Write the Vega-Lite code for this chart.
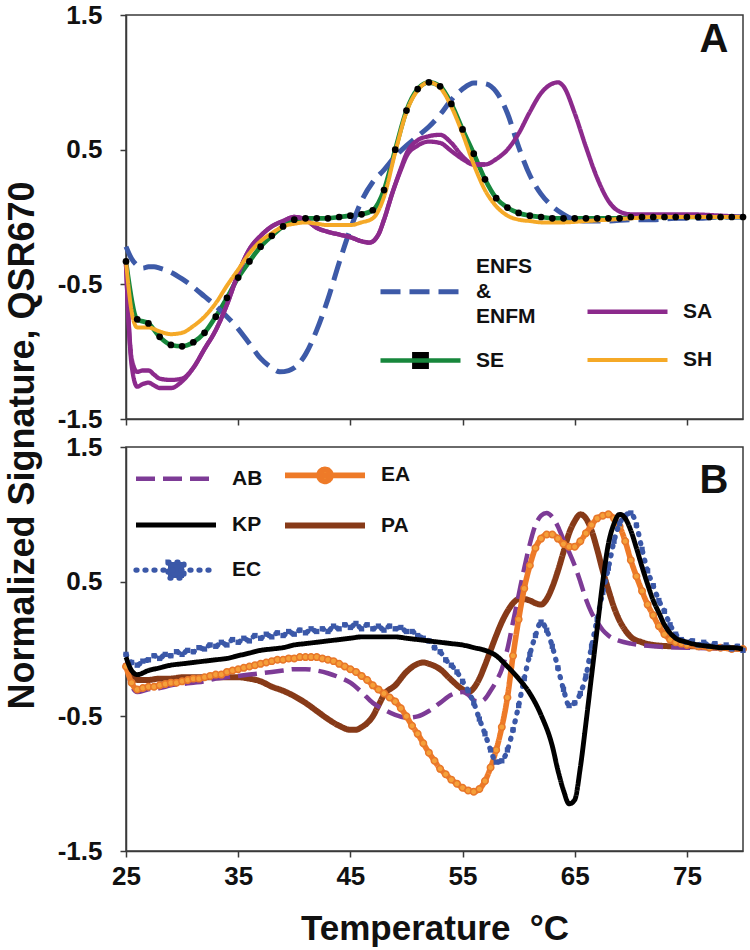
{
  "$schema": "https://vega.github.io/schema/vega-lite/v6.json",
  "background": "white",
  "padding": {"left": 3, "top": 1, "right": 5, "bottom": 5},
  "config": {
    "font": "Liberation Sans",
    "view": {"stroke": "#3a3a3a", "strokeWidth": 1.5},
    "axis": {
      "grid": false, "domainColor": "#3a3a3a", "domainWidth": 1.5, "tickColor": "#3a3a3a", "tickWidth": 1.5, "tickSize": 6,
      "labelFont": "Liberation Sans", "labelFontSize": 26, "labelFontWeight": "bold", "labelColor": "#111", "labelFlush": false, "labelOverlap": false,
      "titleFont": "Liberation Sans", "titleFontSize": 36, "titleFontWeight": "bold", "titleColor": "#111"
    },
    "legend": {"labelFont": "Liberation Sans", "labelFontSize": 21, "labelFontWeight": "bold", "labelColor": "#111", "symbolSize": 2500, "symbolStrokeWidth": 4, "symbolType": "stroke", "labelOffset": 28, "labelLimit": 0}
  },
  "datasets": {
    "a": [
      {"s":"ENFS","t":25,"v":-0.22},{"s":"ENFS","t":25.5,"v":-0.31},{"s":"ENFS","t":26,"v":-0.36},{"s":"ENFS","t":26.5,"v":-0.38},{"s":"ENFS","t":27,"v":-0.37},{"s":"ENFS","t":27.5,"v":-0.37},{"s":"ENFS","t":28,"v":-0.38},{"s":"ENFS","t":29,"v":-0.41},{"s":"ENFS","t":30,"v":-0.46},{"s":"ENFS","t":31,"v":-0.52},{"s":"ENFS","t":32,"v":-0.59},{"s":"ENFS","t":33,"v":-0.66},{"s":"ENFS","t":34,"v":-0.74},{"s":"ENFS","t":35,"v":-0.83},{"s":"ENFS","t":36,"v":-0.94},{"s":"ENFS","t":37,"v":-1.05},{"s":"ENFS","t":38,"v":-1.12},{"s":"ENFS","t":38.7,"v":-1.15},{"s":"ENFS","t":39.5,"v":-1.14},{"s":"ENFS","t":40,"v":-1.12},{"s":"ENFS","t":41,"v":-1.02},{"s":"ENFS","t":42,"v":-0.84},{"s":"ENFS","t":43,"v":-0.61},{"s":"ENFS","t":44,"v":-0.34},{"s":"ENFS","t":45,"v":-0.09},{"s":"ENFS","t":46,"v":0.12},{"s":"ENFS","t":47,"v":0.26},{"s":"ENFS","t":48,"v":0.35},{"s":"ENFS","t":49,"v":0.45},{"s":"ENFS","t":50,"v":0.53},{"s":"ENFS","t":51,"v":0.6},{"s":"ENFS","t":52,"v":0.67},{"s":"ENFS","t":53,"v":0.76},{"s":"ENFS","t":54,"v":0.87},{"s":"ENFS","t":55,"v":0.95},{"s":"ENFS","t":56,"v":0.995},{"s":"ENFS","t":57,"v":0.99},{"s":"ENFS","t":58,"v":0.93},{"s":"ENFS","t":59,"v":0.77},{"s":"ENFS","t":60,"v":0.52},{"s":"ENFS","t":61,"v":0.31},{"s":"ENFS","t":62,"v":0.17},{"s":"ENFS","t":63,"v":0.08},{"s":"ENFS","t":64,"v":0.02},{"s":"ENFS","t":65,"v":-0.02},{"s":"ENFS","t":66,"v":-0.03},{"s":"ENFS","t":68,"v":-0.03},{"s":"ENFS","t":70,"v":-0.02},{"s":"ENFS","t":72,"v":-0.02},{"s":"ENFS","t":74,"v":-0.01},{"s":"ENFS","t":76,"v":-0.01},{"s":"ENFS","t":78,"v":0.0},{"s":"ENFS","t":80,"v":0.0},
      {"s":"SA","t":25,"v":-0.35},{"s":"SA","t":25.5,"v":-1.1},{"s":"SA","t":26,"v":-1.26},{"s":"SA","t":26.5,"v":-1.24},{"s":"SA","t":27,"v":-1.23},{"s":"SA","t":27.5,"v":-1.25},{"s":"SA","t":28,"v":-1.27},{"s":"SA","t":29,"v":-1.27},{"s":"SA","t":30,"v":-1.22},{"s":"SA","t":31,"v":-1.12},{"s":"SA","t":32,"v":-0.98},{"s":"SA","t":33,"v":-0.84},{"s":"SA","t":34,"v":-0.65},{"s":"SA","t":35,"v":-0.42},{"s":"SA","t":36,"v":-0.24},{"s":"SA","t":37,"v":-0.14},{"s":"SA","t":38,"v":-0.07},{"s":"SA","t":39,"v":-0.03},{"s":"SA","t":40,"v":0.0},{"s":"SA","t":41,"v":-0.02},{"s":"SA","t":42,"v":-0.08},{"s":"SA","t":43,"v":-0.11},{"s":"SA","t":44,"v":-0.13},{"s":"SA","t":45,"v":-0.15},{"s":"SA","t":46,"v":-0.18},{"s":"SA","t":46.7,"v":-0.19},{"s":"SA","t":47.5,"v":-0.13},{"s":"SA","t":48,"v":-0.02},{"s":"SA","t":48.75,"v":0.18},{"s":"SA","t":49.5,"v":0.35},{"s":"SA","t":50,"v":0.45},{"s":"SA","t":51,"v":0.53},{"s":"SA","t":52,"v":0.56},{"s":"SA","t":53,"v":0.55},{"s":"SA","t":54,"v":0.49},{"s":"SA","t":55,"v":0.43},{"s":"SA","t":56,"v":0.39},{"s":"SA","t":57,"v":0.39},{"s":"SA","t":58,"v":0.43},{"s":"SA","t":59,"v":0.5},{"s":"SA","t":60,"v":0.62},{"s":"SA","t":61,"v":0.78},{"s":"SA","t":62,"v":0.92},{"s":"SA","t":63,"v":0.99},{"s":"SA","t":63.5,"v":1.0},{"s":"SA","t":64,"v":0.97},{"s":"SA","t":65,"v":0.77},{"s":"SA","t":66,"v":0.52},{"s":"SA","t":67,"v":0.29},{"s":"SA","t":68,"v":0.12},{"s":"SA","t":69,"v":0.04},{"s":"SA","t":70,"v":0.02},{"s":"SA","t":72,"v":0.02},{"s":"SA","t":75,"v":0.02},{"s":"SA","t":78,"v":0.01},{"s":"SA","t":80,"v":0.0},
      {"s":"SA","r":2,"t":25,"v":-0.35},{"s":"SA","r":2,"t":25.5,"v":-1.05},{"s":"SA","r":2,"t":26,"v":-1.15},{"s":"SA","r":2,"t":26.5,"v":-1.14},{"s":"SA","r":2,"t":27,"v":-1.14},{"s":"SA","r":2,"t":27.5,"v":-1.17},{"s":"SA","r":2,"t":28,"v":-1.2},{"s":"SA","r":2,"t":29,"v":-1.21},{"s":"SA","r":2,"t":30,"v":-1.2},{"s":"SA","r":2,"t":31,"v":-1.12},{"s":"SA","r":2,"t":32,"v":-0.98},{"s":"SA","r":2,"t":33,"v":-0.84},{"s":"SA","r":2,"t":34,"v":-0.65},{"s":"SA","r":2,"t":35,"v":-0.42},{"s":"SA","r":2,"t":36,"v":-0.24},{"s":"SA","r":2,"t":37,"v":-0.14},{"s":"SA","r":2,"t":38,"v":-0.07},{"s":"SA","r":2,"t":39,"v":-0.03},{"s":"SA","r":2,"t":40,"v":0.0},{"s":"SA","r":2,"t":41,"v":-0.02},{"s":"SA","r":2,"t":42,"v":-0.08},{"s":"SA","r":2,"t":43,"v":-0.11},{"s":"SA","r":2,"t":44,"v":-0.13},{"s":"SA","r":2,"t":45,"v":-0.15},{"s":"SA","r":2,"t":46,"v":-0.18},{"s":"SA","r":2,"t":46.7,"v":-0.19},{"s":"SA","r":2,"t":47.5,"v":-0.13},{"s":"SA","r":2,"t":48,"v":-0.02},{"s":"SA","r":2,"t":48.75,"v":0.18},{"s":"SA","r":2,"t":49.5,"v":0.36},{"s":"SA","r":2,"t":50,"v":0.47},{"s":"SA","r":2,"t":51,"v":0.57},{"s":"SA","r":2,"t":52,"v":0.6},{"s":"SA","r":2,"t":53,"v":0.61},{"s":"SA","r":2,"t":54,"v":0.55},{"s":"SA","r":2,"t":55,"v":0.45},{"s":"SA","r":2,"t":56,"v":0.39},{"s":"SA","r":2,"t":57,"v":0.39},
      {"s":"SE","t":25,"v":-0.33},{"s":"SE","t":26,"v":-0.76},{"s":"SE","t":27,"v":-0.79},{"s":"SE","t":28,"v":-0.89},{"s":"SE","t":29,"v":-0.95},{"s":"SE","t":30,"v":-0.96},{"s":"SE","t":31,"v":-0.93},{"s":"SE","t":32,"v":-0.86},{"s":"SE","t":33,"v":-0.74},{"s":"SE","t":34,"v":-0.6},{"s":"SE","t":35,"v":-0.45},{"s":"SE","t":36,"v":-0.33},{"s":"SE","t":37,"v":-0.22},{"s":"SE","t":38,"v":-0.14},{"s":"SE","t":39,"v":-0.07},{"s":"SE","t":40,"v":-0.02},{"s":"SE","t":41,"v":-0.01},{"s":"SE","t":42,"v":-0.01},{"s":"SE","t":43,"v":-0.01},{"s":"SE","t":44,"v":0.0},{"s":"SE","t":45,"v":0.01},{"s":"SE","t":46,"v":0.02},{"s":"SE","t":47,"v":0.05},{"s":"SE","t":48,"v":0.2},{"s":"SE","t":49,"v":0.5},{"s":"SE","t":50,"v":0.79},{"s":"SE","t":51,"v":0.95},{"s":"SE","t":52,"v":1.0},{"s":"SE","t":53,"v":0.97},{"s":"SE","t":54,"v":0.84},{"s":"SE","t":55,"v":0.65},{"s":"SE","t":56,"v":0.47},{"s":"SE","t":57,"v":0.28},{"s":"SE","t":58,"v":0.14},{"s":"SE","t":59,"v":0.07},{"s":"SE","t":60,"v":0.03},{"s":"SE","t":61,"v":0.01},{"s":"SE","t":62,"v":0.0},{"s":"SE","t":63,"v":-0.01},{"s":"SE","t":64,"v":-0.01},{"s":"SE","t":65,"v":-0.01},{"s":"SE","t":66,"v":-0.01},{"s":"SE","t":67,"v":-0.01},{"s":"SE","t":68,"v":-0.01},{"s":"SE","t":69,"v":-0.01},{"s":"SE","t":70,"v":0.0},{"s":"SE","t":71,"v":0.0},{"s":"SE","t":72,"v":0.0},{"s":"SE","t":73,"v":0.0},{"s":"SE","t":74,"v":0.0},{"s":"SE","t":75,"v":0.0},{"s":"SE","t":76,"v":0.0},{"s":"SE","t":77,"v":0.0},{"s":"SE","t":78,"v":0.0},{"s":"SE","t":79,"v":0.0},{"s":"SE","t":80,"v":0.0},
      {"s":"SH","t":25,"v":-0.33},{"s":"SH","t":25.5,"v":-0.7},{"s":"SH","t":26,"v":-0.82},{"s":"SH","t":27,"v":-0.82},{"s":"SH","t":28,"v":-0.85},{"s":"SH","t":29,"v":-0.87},{"s":"SH","t":30,"v":-0.86},{"s":"SH","t":31,"v":-0.81},{"s":"SH","t":32,"v":-0.74},{"s":"SH","t":33,"v":-0.64},{"s":"SH","t":34,"v":-0.51},{"s":"SH","t":35,"v":-0.39},{"s":"SH","t":36,"v":-0.27},{"s":"SH","t":37,"v":-0.18},{"s":"SH","t":38,"v":-0.12},{"s":"SH","t":39,"v":-0.07},{"s":"SH","t":40,"v":-0.05},{"s":"SH","t":41,"v":-0.04},{"s":"SH","t":42,"v":-0.05},{"s":"SH","t":43,"v":-0.06},{"s":"SH","t":44,"v":-0.06},{"s":"SH","t":45,"v":-0.06},{"s":"SH","t":46,"v":-0.04},{"s":"SH","t":47,"v":-0.01},{"s":"SH","t":48,"v":0.15},{"s":"SH","t":49,"v":0.48},{"s":"SH","t":50,"v":0.78},{"s":"SH","t":51,"v":0.94},{"s":"SH","t":52,"v":1.0},{"s":"SH","t":53,"v":0.96},{"s":"SH","t":54,"v":0.82},{"s":"SH","t":55,"v":0.62},{"s":"SH","t":56,"v":0.39},{"s":"SH","t":57,"v":0.2},{"s":"SH","t":58,"v":0.08},{"s":"SH","t":59,"v":0.01},{"s":"SH","t":60,"v":-0.02},{"s":"SH","t":61,"v":-0.03},{"s":"SH","t":62,"v":-0.04},{"s":"SH","t":64,"v":-0.04},{"s":"SH","t":66,"v":-0.03},{"s":"SH","t":68,"v":-0.02},{"s":"SH","t":70,"v":-0.01},{"s":"SH","t":72,"v":0.0},{"s":"SH","t":75,"v":0.0},{"s":"SH","t":80,"v":0.0}
    ],
    "b": [
      {"s":"PA","t":25,"v":-0.1},{"s":"PA","t":25.5,"v":-0.2},{"s":"PA","t":26,"v":-0.23},{"s":"PA","t":27,"v":-0.23},{"s":"PA","t":28,"v":-0.22},{"s":"PA","t":29,"v":-0.22},{"s":"PA","t":30,"v":-0.21},{"s":"PA","t":31,"v":-0.21},{"s":"PA","t":32,"v":-0.21},{"s":"PA","t":33,"v":-0.21},{"s":"PA","t":34,"v":-0.21},{"s":"PA","t":35,"v":-0.21},{"s":"PA","t":36,"v":-0.22},{"s":"PA","t":37,"v":-0.24},{"s":"PA","t":38,"v":-0.28},{"s":"PA","t":39,"v":-0.31},{"s":"PA","t":40,"v":-0.35},{"s":"PA","t":41,"v":-0.4},{"s":"PA","t":42,"v":-0.46},{"s":"PA","t":43,"v":-0.52},{"s":"PA","t":44,"v":-0.57},{"s":"PA","t":45,"v":-0.6},{"s":"PA","t":45.5,"v":-0.6},{"s":"PA","t":46,"v":-0.58},{"s":"PA","t":46.5,"v":-0.55},{"s":"PA","t":47,"v":-0.5},{"s":"PA","t":47.5,"v":-0.42},{"s":"PA","t":48,"v":-0.34},{"s":"PA","t":49,"v":-0.27},{"s":"PA","t":50,"v":-0.17},{"s":"PA","t":51,"v":-0.11},{"s":"PA","t":51.5,"v":-0.1},{"s":"PA","t":52,"v":-0.11},{"s":"PA","t":53,"v":-0.15},{"s":"PA","t":54,"v":-0.23},{"s":"PA","t":55,"v":-0.3},{"s":"PA","t":55.5,"v":-0.32},{"s":"PA","t":56,"v":-0.29},{"s":"PA","t":56.5,"v":-0.22},{"s":"PA","t":57,"v":-0.12},{"s":"PA","t":57.5,"v":-0.01},{"s":"PA","t":58,"v":0.1},{"s":"PA","t":58.5,"v":0.2},{"s":"PA","t":59,"v":0.28},{"s":"PA","t":59.5,"v":0.34},{"s":"PA","t":60,"v":0.37},{"s":"PA","t":60.5,"v":0.37},{"s":"PA","t":61,"v":0.36},{"s":"PA","t":61.5,"v":0.34},{"s":"PA","t":62,"v":0.33},{"s":"PA","t":62.5,"v":0.37},{"s":"PA","t":63,"v":0.46},{"s":"PA","t":63.5,"v":0.58},{"s":"PA","t":64,"v":0.72},{"s":"PA","t":64.5,"v":0.86},{"s":"PA","t":65,"v":0.95},{"s":"PA","t":65.5,"v":1.0},{"s":"PA","t":66,"v":0.97},{"s":"PA","t":66.5,"v":0.88},{"s":"PA","t":67,"v":0.74},{"s":"PA","t":67.5,"v":0.58},{"s":"PA","t":68,"v":0.44},{"s":"PA","t":68.5,"v":0.31},{"s":"PA","t":69,"v":0.21},{"s":"PA","t":69.5,"v":0.14},{"s":"PA","t":70,"v":0.09},{"s":"PA","t":71,"v":0.05},{"s":"PA","t":72,"v":0.03},{"s":"PA","t":74,"v":0.02},{"s":"PA","t":76,"v":0.02},{"s":"PA","t":78,"v":0.01},{"s":"PA","t":80,"v":0.0},
      {"s":"AB","t":25,"v":-0.1},{"s":"AB","t":25.5,"v":-0.27},{"s":"AB","t":26,"v":-0.32},{"s":"AB","t":27,"v":-0.3},{"s":"AB","t":28,"v":-0.29},{"s":"AB","t":29,"v":-0.27},{"s":"AB","t":30,"v":-0.26},{"s":"AB","t":31,"v":-0.25},{"s":"AB","t":32,"v":-0.24},{"s":"AB","t":33,"v":-0.22},{"s":"AB","t":34,"v":-0.21},{"s":"AB","t":35,"v":-0.2},{"s":"AB","t":36,"v":-0.19},{"s":"AB","t":37,"v":-0.18},{"s":"AB","t":38,"v":-0.17},{"s":"AB","t":39,"v":-0.16},{"s":"AB","t":40,"v":-0.15},{"s":"AB","t":41,"v":-0.15},{"s":"AB","t":42,"v":-0.16},{"s":"AB","t":43,"v":-0.18},{"s":"AB","t":44,"v":-0.21},{"s":"AB","t":45,"v":-0.25},{"s":"AB","t":46,"v":-0.32},{"s":"AB","t":47,"v":-0.4},{"s":"AB","t":48,"v":-0.45},{"s":"AB","t":49,"v":-0.49},{"s":"AB","t":50,"v":-0.51},{"s":"AB","t":51,"v":-0.5},{"s":"AB","t":52,"v":-0.46},{"s":"AB","t":53,"v":-0.4},{"s":"AB","t":54,"v":-0.34},{"s":"AB","t":55,"v":-0.32},{"s":"AB","t":55.5,"v":-0.34},{"s":"AB","t":56,"v":-0.38},{"s":"AB","t":56.5,"v":-0.39},{"s":"AB","t":57,"v":-0.37},{"s":"AB","t":57.5,"v":-0.31},{"s":"AB","t":58,"v":-0.24},{"s":"AB","t":58.5,"v":-0.15},{"s":"AB","t":59,"v":0.0},{"s":"AB","t":59.5,"v":0.2},{"s":"AB","t":60,"v":0.4},{"s":"AB","t":60.5,"v":0.6},{"s":"AB","t":61,"v":0.78},{"s":"AB","t":61.5,"v":0.92},{"s":"AB","t":62,"v":0.99},{"s":"AB","t":62.5,"v":1.01},{"s":"AB","t":63,"v":0.98},{"s":"AB","t":63.5,"v":0.91},{"s":"AB","t":64,"v":0.81},{"s":"AB","t":64.5,"v":0.72},{"s":"AB","t":65,"v":0.62},{"s":"AB","t":65.5,"v":0.5},{"s":"AB","t":66,"v":0.37},{"s":"AB","t":66.5,"v":0.27},{"s":"AB","t":67,"v":0.2},{"s":"AB","t":67.5,"v":0.14},{"s":"AB","t":68,"v":0.1},{"s":"AB","t":69,"v":0.06},{"s":"AB","t":70,"v":0.04},{"s":"AB","t":72,"v":0.02},{"s":"AB","t":75,"v":0.01},{"s":"AB","t":80,"v":0.0},
      {"s":"EA","t":25,"v":-0.13},{"s":"EA","t":25.5,"v":-0.25},{"s":"EA","t":26,"v":-0.3},{"s":"EA","t":26.5,"v":-0.29},{"s":"EA","t":27,"v":-0.28},{"s":"EA","t":27.5,"v":-0.28},{"s":"EA","t":28,"v":-0.27},{"s":"EA","t":28.5,"v":-0.26},{"s":"EA","t":29,"v":-0.25},{"s":"EA","t":29.5,"v":-0.25},{"s":"EA","t":30,"v":-0.24},{"s":"EA","t":30.5,"v":-0.23},{"s":"EA","t":31,"v":-0.22},{"s":"EA","t":31.5,"v":-0.22},{"s":"EA","t":32,"v":-0.21},{"s":"EA","t":32.5,"v":-0.2},{"s":"EA","t":33,"v":-0.19},{"s":"EA","t":33.5,"v":-0.19},{"s":"EA","t":34,"v":-0.17},{"s":"EA","t":34.5,"v":-0.16},{"s":"EA","t":35,"v":-0.15},{"s":"EA","t":35.5,"v":-0.14},{"s":"EA","t":36,"v":-0.13},{"s":"EA","t":36.5,"v":-0.12},{"s":"EA","t":37,"v":-0.11},{"s":"EA","t":37.5,"v":-0.1},{"s":"EA","t":38,"v":-0.09},{"s":"EA","t":38.5,"v":-0.08},{"s":"EA","t":39,"v":-0.08},{"s":"EA","t":39.5,"v":-0.07},{"s":"EA","t":40,"v":-0.07},{"s":"EA","t":40.5,"v":-0.06},{"s":"EA","t":41,"v":-0.06},{"s":"EA","t":41.5,"v":-0.06},{"s":"EA","t":42,"v":-0.06},{"s":"EA","t":42.5,"v":-0.07},{"s":"EA","t":43,"v":-0.08},{"s":"EA","t":43.5,"v":-0.09},{"s":"EA","t":44,"v":-0.11},{"s":"EA","t":44.5,"v":-0.13},{"s":"EA","t":45,"v":-0.15},{"s":"EA","t":45.5,"v":-0.17},{"s":"EA","t":46,"v":-0.2},{"s":"EA","t":46.5,"v":-0.23},{"s":"EA","t":47,"v":-0.27},{"s":"EA","t":47.5,"v":-0.3},{"s":"EA","t":48,"v":-0.33},{"s":"EA","t":48.5,"v":-0.36},{"s":"EA","t":49,"v":-0.39},{"s":"EA","t":49.5,"v":-0.44},{"s":"EA","t":50,"v":-0.5},{"s":"EA","t":50.5,"v":-0.57},{"s":"EA","t":51,"v":-0.63},{"s":"EA","t":51.5,"v":-0.7},{"s":"EA","t":52,"v":-0.77},{"s":"EA","t":52.5,"v":-0.83},{"s":"EA","t":53,"v":-0.89},{"s":"EA","t":53.5,"v":-0.93},{"s":"EA","t":54,"v":-0.97},{"s":"EA","t":54.5,"v":-1.0},{"s":"EA","t":55,"v":-1.03},{"s":"EA","t":55.5,"v":-1.05},{"s":"EA","t":56,"v":-1.06},{"s":"EA","t":56.5,"v":-1.04},{"s":"EA","t":57,"v":-0.98},{"s":"EA","t":57.5,"v":-0.88},{"s":"EA","t":58,"v":-0.75},{"s":"EA","t":58.5,"v":-0.58},{"s":"EA","t":59,"v":-0.36},{"s":"EA","t":59.5,"v":-0.05},{"s":"EA","t":60,"v":0.22},{"s":"EA","t":60.5,"v":0.45},{"s":"EA","t":61,"v":0.62},{"s":"EA","t":61.5,"v":0.75},{"s":"EA","t":62,"v":0.82},{"s":"EA","t":62.5,"v":0.85},{"s":"EA","t":63,"v":0.85},{"s":"EA","t":63.5,"v":0.82},{"s":"EA","t":64,"v":0.78},{"s":"EA","t":64.5,"v":0.76},{"s":"EA","t":65,"v":0.76},{"s":"EA","t":65.5,"v":0.8},{"s":"EA","t":66,"v":0.86},{"s":"EA","t":66.5,"v":0.92},{"s":"EA","t":67,"v":0.97},{"s":"EA","t":67.5,"v":0.99},{"s":"EA","t":68,"v":1.0},{"s":"EA","t":68.5,"v":0.97},{"s":"EA","t":69,"v":0.91},{"s":"EA","t":69.5,"v":0.8},{"s":"EA","t":70,"v":0.66},{"s":"EA","t":70.5,"v":0.54},{"s":"EA","t":71,"v":0.43},{"s":"EA","t":71.5,"v":0.33},{"s":"EA","t":72,"v":0.25},{"s":"EA","t":72.5,"v":0.17},{"s":"EA","t":73,"v":0.11},{"s":"EA","t":73.5,"v":0.07},{"s":"EA","t":74,"v":0.05},{"s":"EA","t":74.5,"v":0.04},{"s":"EA","t":75,"v":0.03},{"s":"EA","t":76,"v":0.02},{"s":"EA","t":77,"v":0.01},{"s":"EA","t":78,"v":0.01},{"s":"EA","t":79,"v":0.0},{"s":"EA","t":80,"v":0.0},
      {"s":"EC","t":25,"v":-0.04},{"s":"EC","t":25.5,"v":-0.1},{"s":"EC","t":26,"v":-0.12},{"s":"EC","t":26.5,"v":-0.09},{"s":"EC","t":27,"v":-0.08},{"s":"EC","t":27.5,"v":-0.05},{"s":"EC","t":28,"v":-0.07},{"s":"EC","t":28.5,"v":-0.04},{"s":"EC","t":29,"v":-0.05},{"s":"EC","t":29.5,"v":-0.02},{"s":"EC","t":30,"v":-0.04},{"s":"EC","t":30.5,"v":-0.01},{"s":"EC","t":31,"v":-0.02},{"s":"EC","t":31.5,"v":0.01},{"s":"EC","t":32,"v":0.0},{"s":"EC","t":32.5,"v":0.03},{"s":"EC","t":33,"v":0.02},{"s":"EC","t":33.5,"v":0.05},{"s":"EC","t":34,"v":0.03},{"s":"EC","t":34.5,"v":0.07},{"s":"EC","t":35,"v":0.05},{"s":"EC","t":35.5,"v":0.08},{"s":"EC","t":36,"v":0.06},{"s":"EC","t":36.5,"v":0.1},{"s":"EC","t":37,"v":0.08},{"s":"EC","t":37.5,"v":0.11},{"s":"EC","t":38,"v":0.09},{"s":"EC","t":38.5,"v":0.12},{"s":"EC","t":39,"v":0.1},{"s":"EC","t":39.5,"v":0.13},{"s":"EC","t":40,"v":0.11},{"s":"EC","t":40.5,"v":0.14},{"s":"EC","t":41,"v":0.12},{"s":"EC","t":41.5,"v":0.15},{"s":"EC","t":42,"v":0.13},{"s":"EC","t":42.5,"v":0.15},{"s":"EC","t":43,"v":0.13},{"s":"EC","t":43.5,"v":0.17},{"s":"EC","t":44,"v":0.15},{"s":"EC","t":44.5,"v":0.18},{"s":"EC","t":45,"v":0.16},{"s":"EC","t":45.5,"v":0.19},{"s":"EC","t":46,"v":0.15},{"s":"EC","t":46.5,"v":0.18},{"s":"EC","t":47,"v":0.15},{"s":"EC","t":47.5,"v":0.17},{"s":"EC","t":48,"v":0.14},{"s":"EC","t":48.5,"v":0.17},{"s":"EC","t":49,"v":0.15},{"s":"EC","t":49.5,"v":0.16},{"s":"EC","t":50,"v":0.13},{"s":"EC","t":50.5,"v":0.13},{"s":"EC","t":51,"v":0.1},{"s":"EC","t":51.5,"v":0.08},{"s":"EC","t":52,"v":0.06},{"s":"EC","t":52.5,"v":0.01},{"s":"EC","t":53,"v":-0.02},{"s":"EC","t":53.5,"v":-0.08},{"s":"EC","t":54,"v":-0.12},{"s":"EC","t":54.5,"v":-0.17},{"s":"EC","t":55,"v":-0.24},{"s":"EC","t":55.5,"v":-0.31},{"s":"EC","t":56,"v":-0.4},{"s":"EC","t":56.5,"v":-0.52},{"s":"EC","t":57,"v":-0.63},{"s":"EC","t":57.5,"v":-0.75},{"s":"EC","t":58,"v":-0.84},{"s":"EC","t":58.5,"v":-0.83},{"s":"EC","t":59,"v":-0.75},{"s":"EC","t":59.5,"v":-0.6},{"s":"EC","t":60,"v":-0.42},{"s":"EC","t":60.5,"v":-0.22},{"s":"EC","t":61,"v":-0.04},{"s":"EC","t":61.5,"v":0.1},{"s":"EC","t":62,"v":0.2},{"s":"EC","t":62.5,"v":0.14},{"s":"EC","t":63,"v":0.02},{"s":"EC","t":63.5,"v":-0.14},{"s":"EC","t":64,"v":-0.3},{"s":"EC","t":64.5,"v":-0.42},{"s":"EC","t":65,"v":-0.4},{"s":"EC","t":65.5,"v":-0.33},{"s":"EC","t":66,"v":-0.2},{"s":"EC","t":66.5,"v":0.02},{"s":"EC","t":67,"v":0.22},{"s":"EC","t":67.5,"v":0.42},{"s":"EC","t":68,"v":0.6},{"s":"EC","t":68.5,"v":0.8},{"s":"EC","t":69,"v":0.93},{"s":"EC","t":69.5,"v":0.99},{"s":"EC","t":70,"v":1.01},{"s":"EC","t":70.5,"v":0.92},{"s":"EC","t":71,"v":0.74},{"s":"EC","t":71.5,"v":0.58},{"s":"EC","t":72,"v":0.47},{"s":"EC","t":72.5,"v":0.36},{"s":"EC","t":73,"v":0.28},{"s":"EC","t":73.5,"v":0.18},{"s":"EC","t":74,"v":0.11},{"s":"EC","t":74.5,"v":0.07},{"s":"EC","t":75,"v":0.05},{"s":"EC","t":75.5,"v":0.06},{"s":"EC","t":76,"v":0.03},{"s":"EC","t":76.5,"v":0.05},{"s":"EC","t":77,"v":0.02},{"s":"EC","t":77.5,"v":0.04},{"s":"EC","t":78,"v":0.01},{"s":"EC","t":78.5,"v":0.03},{"s":"EC","t":79,"v":0.0},{"s":"EC","t":79.5,"v":0.02},{"s":"EC","t":80,"v":-0.01},
      {"s":"KP","t":25,"v":-0.06},{"s":"KP","t":25.5,"v":-0.16},{"s":"KP","t":26,"v":-0.19},{"s":"KP","t":27,"v":-0.16},{"s":"KP","t":28,"v":-0.14},{"s":"KP","t":29,"v":-0.12},{"s":"KP","t":30,"v":-0.11},{"s":"KP","t":31,"v":-0.1},{"s":"KP","t":32,"v":-0.09},{"s":"KP","t":33,"v":-0.08},{"s":"KP","t":34,"v":-0.07},{"s":"KP","t":35,"v":-0.05},{"s":"KP","t":36,"v":-0.03},{"s":"KP","t":37,"v":-0.01},{"s":"KP","t":38,"v":0.0},{"s":"KP","t":39,"v":0.01},{"s":"KP","t":40,"v":0.03},{"s":"KP","t":41,"v":0.04},{"s":"KP","t":42,"v":0.05},{"s":"KP","t":43,"v":0.06},{"s":"KP","t":44,"v":0.07},{"s":"KP","t":45,"v":0.08},{"s":"KP","t":46,"v":0.09},{"s":"KP","t":47,"v":0.09},{"s":"KP","t":48,"v":0.09},{"s":"KP","t":49,"v":0.09},{"s":"KP","t":50,"v":0.08},{"s":"KP","t":51,"v":0.07},{"s":"KP","t":52,"v":0.06},{"s":"KP","t":53,"v":0.05},{"s":"KP","t":54,"v":0.04},{"s":"KP","t":55,"v":0.03},{"s":"KP","t":56,"v":0.01},{"s":"KP","t":57,"v":-0.01},{"s":"KP","t":58,"v":-0.05},{"s":"KP","t":59,"v":-0.13},{"s":"KP","t":60,"v":-0.22},{"s":"KP","t":61,"v":-0.33},{"s":"KP","t":62,"v":-0.49},{"s":"KP","t":63,"v":-0.72},{"s":"KP","t":63.5,"v":-0.9},{"s":"KP","t":64,"v":-1.05},{"s":"KP","t":64.5,"v":-1.15},{"s":"KP","t":65,"v":-1.12},{"s":"KP","t":65.5,"v":-0.88},{"s":"KP","t":66,"v":-0.55},{"s":"KP","t":66.5,"v":-0.2},{"s":"KP","t":67,"v":0.15},{"s":"KP","t":67.5,"v":0.5},{"s":"KP","t":68,"v":0.78},{"s":"KP","t":68.5,"v":0.93},{"s":"KP","t":69,"v":1.0},{"s":"KP","t":69.5,"v":0.97},{"s":"KP","t":70,"v":0.88},{"s":"KP","t":70.5,"v":0.75},{"s":"KP","t":71,"v":0.61},{"s":"KP","t":71.5,"v":0.48},{"s":"KP","t":72,"v":0.36},{"s":"KP","t":72.5,"v":0.27},{"s":"KP","t":73,"v":0.18},{"s":"KP","t":73.5,"v":0.12},{"s":"KP","t":74,"v":0.08},{"s":"KP","t":75,"v":0.05},{"s":"KP","t":76,"v":0.03},{"s":"KP","t":77,"v":0.02},{"s":"KP","t":78,"v":0.01},{"s":"KP","t":79,"v":0.01},{"s":"KP","t":80,"v":0.0}
    ]
  },
  "spacing": 28,
  "bounds": "flush",
  "resolve": {"scale": {"color": "independent", "strokeDash": "independent", "strokeWidth": "independent", "x": "independent", "y": "independent"}, "legend": {"color": "independent", "strokeDash": "independent"}},
  "vconcat": [
    {
      "width": 617,
      "height": 404,
      "data": {"name": "a"},
      "encoding": {
        "x": {"field": "t", "type": "quantitative", "scale": {"domain": [25, 80], "nice": false, "zero": false}, "axis": {"values": [25, 35, 45, 55, 65, 75], "labels": false, "title": "A", "titleFontSize": 40, "titleAngle": 0, "titleAlign": "right", "titleBaseline": "alphabetic", "titleX": 602, "titleY": -368}},
        "y": {"field": "v", "type": "quantitative", "scale": {"domain": [-1.5, 1.5], "nice": false, "zero": false}, "axis": {"values": [-1.5, -0.5, 0.5, 1.5], "format": ".1f", "labelExpr": "replace(datum.label, '\u2212', '-')", "labelPadding": 18, "title": "Normalized Signature, QSR670", "titleAngle": 270, "titleAlign": "center", "titleBaseline": "alphabetic", "titleX": -93, "titleY": 430}}
      },
      "layer": [
        {
          "transform": [{"filter": "datum.s == 'SE'"}],
          "mark": {"type": "line", "interpolate": "monotone"},
          "encoding": {
            "color": {"field": "s", "type": "nominal"},
            "strokeWidth": {"field": "s", "type": "nominal", "legend": null}
          }
        },
        {
          "transform": [{"filter": "datum.s != 'SE'"}],
          "mark": {"type": "line", "interpolate": "monotone"},
          "encoding": {
            "color": {"field": "s", "type": "nominal", "scale": {"domain": ["ENFS", "SE", "SA", "SH"], "range": ["#3D5AA8", "#17873C", "#8C2A8C", "#F5A927"]},
              "legend": {"title": null, "orient": "none", "legendX": 267, "legendY": 224, "columns": 2, "columnPadding": 42, "rowPadding": 6,
                "labelExpr": "datum.value == 'ENFS' ? ['ENFS', '   &', 'ENFM'] : datum.label",
                "encode": {
                  "symbols": {"update": {
                    "shape": {"signal": "datum.value == 'SE' ? 'M-1.6,0L1.6,0L0.336,0L0.336,-0.336L-0.336,-0.336L-0.336,0.336L0.336,0.336L0.336,0Z' : datum.value == 'ENFS' ? 'M-1.6,1H1.6' : datum.value == 'SA' ? 'M-1.6,1.6H1.6' : 'M-1.6,0H1.6'"},
                    "fill": {"signal": "datum.value == 'SE' ? '#000000' : 'transparent'"}
                  }},
                  "labels": {"update": {
                    "dy": {"signal": "datum.value == 'SA' ? 40 : 0"},
                    "lineHeight": {"value": 25}
                  }}
                }}},
            "strokeDash": {"field": "s", "type": "nominal", "scale": {"domain": ["ENFS", "SE", "SA", "SH"], "range": [[20, 9], [81, 1000], [1, 0], [1, 0]]}},
            "strokeWidth": {"field": "s", "type": "nominal", "scale": {"domain": ["ENFS", "SE", "SA", "SH"], "range": [5, 4, 4.5, 4]}, "legend": null},
            "detail": {"field": "r", "type": "nominal"}
          }
        },
        {
          "transform": [{"filter": "datum.s == 'SE'"}],
          "mark": {"type": "point", "shape": "circle", "filled": true, "color": "#000000", "size": 45, "opacity": 1}
        }
      ]
    },
    {
      "width": 617,
      "height": 404,
      "data": {"name": "b"},
      "encoding": {
        "x": {"field": "t", "type": "quantitative", "scale": {"domain": [25, 80], "nice": false, "zero": false}, "axis": {"values": [25, 35, 45, 55, 65, 75], "labelPadding": 6, "title": "Temperature\u00a0\u00a0\u00b0C", "titleBaseline": "alphabetic", "titleY": 88, "titleFontSize": 35}},
        "y": {"field": "v", "type": "quantitative", "scale": {"domain": [-1.5, 1.5], "nice": false, "zero": false}, "axis": {"values": [-1.5, -0.5, 0.5, 1.5], "format": ".1f", "labelExpr": "replace(datum.label, '\u2212', '-')", "labelPadding": 18, "title": "B", "titleFontSize": 40, "titleAngle": 0, "titleAlign": "right", "titleBaseline": "alphabetic", "titleX": 602, "titleY": 45}}
      },
      "layer": [
        {
          "transform": [{"filter": "datum.s == 'PA' || datum.s == 'AB' || datum.s == 'EA'"}],
          "mark": {"type": "line", "interpolate": "monotone"},
          "encoding": {
            "color": {"field": "s", "type": "nominal", "scale": {"domain": ["AB", "KP", "EC", "EA", "PA"], "range": ["#7D3B96", "#000000", "#3B58A8", "#EE7A28", "#873A18"]},
              "legend": {"title": null, "orient": "none", "legendX": 22, "legendY": 0, "columns": 2, "columnPadding": 10, "rowPadding": 4.5,
                "encode": {"symbols": {"update": {
                  "shape": {"signal": "datum.value == 'EA' ? 'M-1.6,0H1.6M0.24,0A0.24,0.24 0 1,1 -0.24,0A0.24,0.24 0 1,1 0.24,0Z' : datum.value == 'EC' ? 'M-1.6,0H1.6M-0.32,-0.32H0.32V0.32H-0.32Z' : 'M-1.6,0H1.6'"},
                  "fill": {"signal": "datum.value == 'EA' ? '#F5A03A' : datum.value == 'EC' ? '#3B58A8' : 'transparent'"},
                  "strokeCap": {"signal": "datum.value == 'EC' ? 'round' : 'butt'"}
                }}}}},
            "strokeDash": {"field": "s", "type": "nominal", "scale": {"domain": ["AB", "KP", "EC", "EA", "PA"], "range": [[19, 8], [1, 0], [1, 8], [1, 0], [1, 0]]}},
            "strokeWidth": {"field": "s", "type": "nominal", "scale": {"domain": ["AB", "KP", "EC", "EA", "PA"], "range": [4.5, 6, 6, 4, 3.5]}, "legend": null}
          }
        },
        {
          "transform": [{"filter": "datum.s == 'EA'"}],
          "mark": {"type": "point", "shape": "circle", "filled": true, "fill": "#F5A03A", "stroke": "#E8772A", "strokeWidth": 1.5, "size": 42, "opacity": 1}
        },
        {
          "transform": [{"filter": "datum.s == 'EC'"}],
          "mark": {"type": "line", "interpolate": "monotone", "strokeCap": "round"},
          "encoding": {
            "color": {"field": "s", "type": "nominal"},
            "strokeDash": {"field": "s", "type": "nominal"},
            "strokeWidth": {"field": "s", "type": "nominal", "legend": null}
          }
        },
        {
          "transform": [{"filter": "datum.s == 'EC'"}],
          "mark": {"type": "point", "shape": "square", "filled": true, "color": "#3B58A8", "size": 28, "opacity": 1}
        },
        {
          "transform": [{"filter": "datum.s == 'KP'"}],
          "mark": {"type": "line", "interpolate": "monotone"},
          "encoding": {
            "color": {"field": "s", "type": "nominal"},
            "strokeDash": {"field": "s", "type": "nominal"},
            "strokeWidth": {"field": "s", "type": "nominal", "legend": null}
          }
        }
      ]
    }
  ]
}
